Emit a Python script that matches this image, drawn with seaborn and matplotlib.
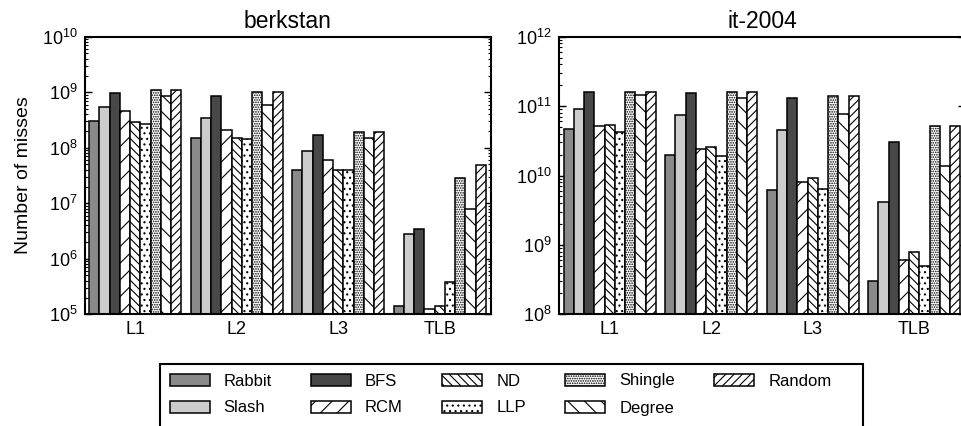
import numpy as np
import pandas as pd
import matplotlib
matplotlib.use('Agg')
import matplotlib.pyplot as plt
import seaborn as sns
from matplotlib.patches import Patch, Rectangle

levels = ['L1', 'L2', 'L3', 'TLB']
methods = ['Rabbit', 'Slash', 'BFS', 'RCM', 'ND', 'LLP', 'Shingle', 'Degree', 'Random']

# berkstan (values per level, in method order)
berkstan_L1 = [3.0e8, 5.4e8, 9.8e8, 4.5e8, 2.9e8, 2.7e8, 1.1e9, 8.5e8, 1.1e9]
berkstan_L2 = [1.5e8, 3.5e8, 8.5e8, 2.1e8, 1.5e8, 1.45e8, 1.0e9, 5.9e8, 1.0e9]
berkstan_L3 = [4.0e7, 8.9e7, 1.7e8, 6.0e7, 3.9e7, 3.9e7, 1.9e8, 1.5e8, 1.9e8]
berkstan_TLB = [1.4e5, 2.8e6, 3.4e6, 1.27e5, 1.4e5, 3.8e5, 2.9e7, 7.8e6, 4.9e7]

# it-2004
it2004_L1 = [4.7e10, 9.0e10, 1.59e11, 5.2e10, 5.4e10, 4.3e10, 1.59e11, 1.43e11, 1.59e11]
it2004_L2 = [2.0e10, 7.5e10, 1.53e11, 2.4e10, 2.6e10, 1.93e10, 1.59e11, 1.31e11, 1.59e11]
it2004_L3 = [6.2e9, 4.5e10, 1.32e11, 8.1e9, 9.1e9, 6.3e9, 1.4e11, 7.7e10, 1.4e11]
it2004_TLB = [3.0e8, 4.1e9, 3.0e10, 6.0e8, 7.8e8, 5.0e8, 5.2e10, 1.37e10, 5.2e10]

colors = ['#8a8a8a', '#cccccc', '#484848', 'white', 'white', 'white', 'white', 'white', 'white']
hatches = ['', '', '', '//', '\\\\\\\\', '...', '.......', '\\\\', '////']


def make_df(rows):
    recs = []
    for lvl, vals in zip(levels, rows):
        for m, v in zip(methods, vals):
            recs.append({'level': lvl, 'method': m, 'misses': v})
    return pd.DataFrame(recs)


df_berk = make_df([berkstan_L1, berkstan_L2, berkstan_L3, berkstan_TLB])
df_it = make_df([it2004_L1, it2004_L2, it2004_L3, it2004_TLB])

sns.set_style('ticks')
plt.rcParams['font.family'] = ['Liberation Sans', 'DejaVu Sans']
plt.rcParams['mathtext.fontset'] = 'custom'
plt.rcParams['mathtext.rm'] = 'Liberation Sans'
plt.rcParams['mathtext.it'] = 'Liberation Sans:italic'
plt.rcParams['mathtext.bf'] = 'Liberation Sans:bold'
plt.rcParams['hatch.linewidth'] = 0.8
plt.rcParams['axes.linewidth'] = 1.5
plt.rcParams['text.color'] = 'black'
plt.rcParams['axes.labelcolor'] = 'black'
plt.rcParams['xtick.color'] = 'black'
plt.rcParams['ytick.color'] = 'black'

fig = plt.figure(figsize=(9.61, 4.26), dpi=100)
W, H = 961.0, 426.0
bottom = 1 - 314.3 / H
height = 277.6 / H
ax1 = fig.add_axes([84.5 / W, bottom, 406 / W, height])
ax2 = fig.add_axes([559 / W, bottom, 406 / W, height])

palette = dict(zip(methods, colors))

for ax, df, title, ylim in [(ax1, df_berk, 'berkstan', (1e5, 1e10)),
                            (ax2, df_it, 'it-2004', (1e8, 1e12))]:
    sns.barplot(data=df, x='level', y='misses', hue='method', order=levels,
                hue_order=methods, palette=palette, width=0.91, saturation=1,
                edgecolor='black', linewidth=1.1, errorbar=None, ax=ax,
                legend=False)
    for cont, h in zip(ax.containers, hatches):
        for bar in cont:
            bar.set_hatch(h)
    ax.set_yscale('log')
    ax.set_ylim(*ylim)
    ax.set_xlim(-0.5, 3.5)
    ax.set_title(title, fontsize=16.5, pad=6, color='black')
    ax.set_xlabel('')
    ax.set_ylabel('')
    for s in ax.spines.values():
        s.set_visible(True)
        s.set_linewidth(1.5)
        s.set_color('black')
    ax.tick_params(axis='y', which='major', direction='in', left=True, right=True,
                   length=5, width=1, labelsize=13, pad=5, colors='black')
    ax.tick_params(axis='y', which='minor', direction='in', left=True, right=True,
                   length=2.5, width=0.8, colors='black')
    ax.tick_params(axis='x', length=0, labelsize=13, pad=5, colors='black')
    ax.grid(False)

ax1.set_ylabel('Number of misses', fontsize=14, labelpad=7, color='black')

handles = [Patch(facecolor=c, edgecolor='black', hatch=h, linewidth=1.1, label=m)
           for m, c, h in zip(methods, colors, hatches)]
leg = fig.legend(handles=handles, loc='upper left',
                 bbox_to_anchor=(160 / W, 1 - 364 / H), ncol=5, frameon=False,
                 fontsize=12, handlelength=2.4, handleheight=0.72,
                 handletextpad=0.84, columnspacing=2.36, labelspacing=0.72,
                 borderpad=0.57, borderaxespad=0)
for t in leg.get_texts():
    t.set_color('black')

# legend box frame (extends below the bottom edge, as in the original)
frame = Rectangle((160 / W, -0.1), (863 - 160) / W, (1 - 364 / H) + 0.1,
                  transform=fig.transFigure, facecolor='none',
                  edgecolor='black', linewidth=1.5, zorder=0)
fig.patches.append(frame)

fig.savefig('out.png', dpi=100)
